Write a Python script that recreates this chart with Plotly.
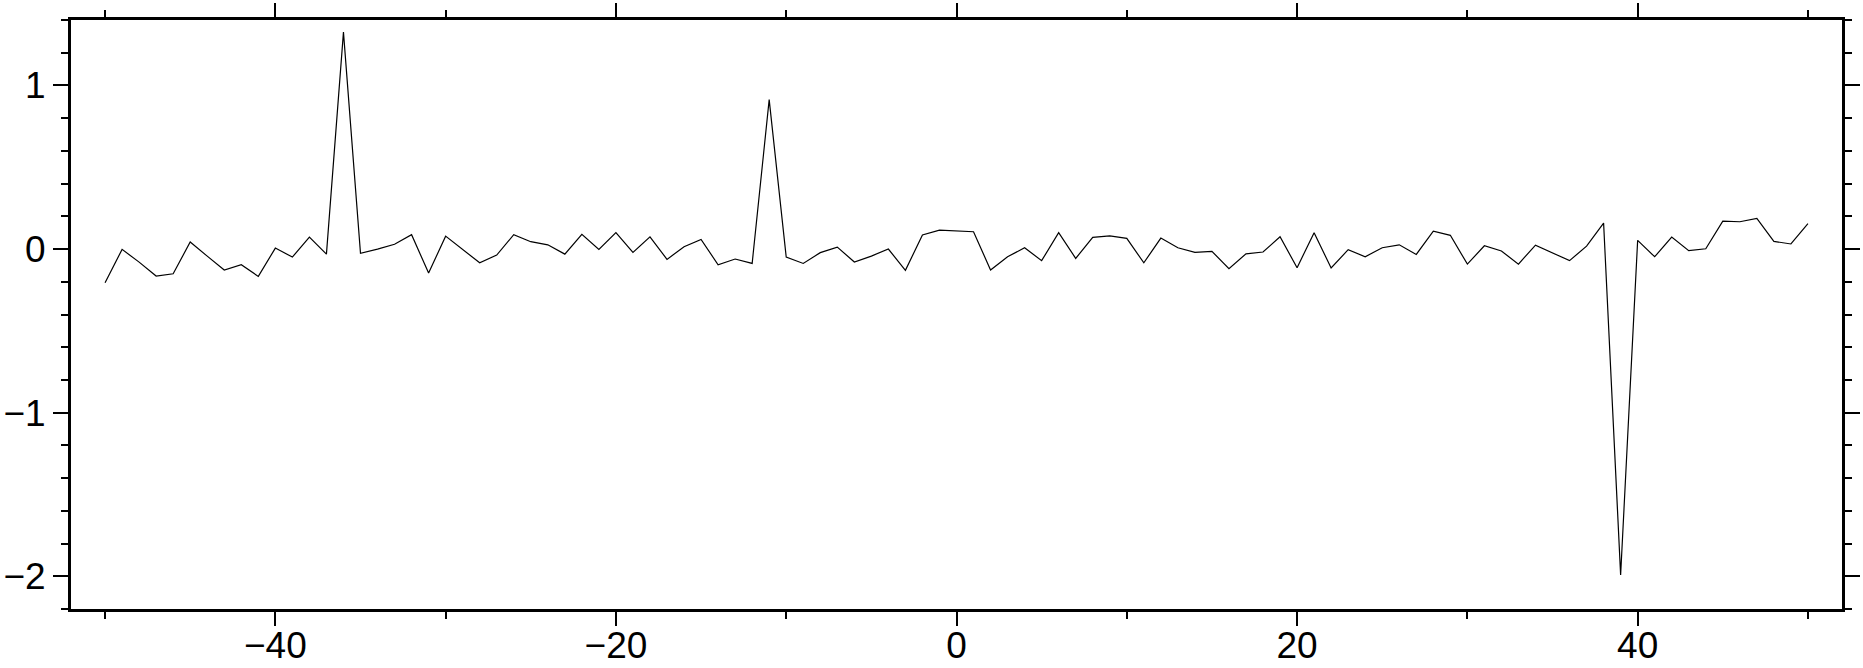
import plotly.graph_objects as go

# ---- data ----
x_values = list(range(-50, 51))
y_values = [
    -0.206, -0.002, -0.080, -0.165, -0.151, 0.043, -0.043, -0.128, -0.096, -0.167,  # -50..-41
    0.006, -0.049, 0.073, -0.031, 1.326, -0.026, 0.000, 0.029, 0.088, -0.147,      # -40..-31
    0.079, 0.000, -0.084, -0.037, 0.088, 0.045, 0.026, -0.031, 0.090, -0.002,      # -30..-21
    0.100, -0.020, 0.075, -0.063, 0.014, 0.059, -0.096, -0.061, -0.088, 0.913,     # -20..-11
    -0.049, -0.088, -0.022, 0.012, -0.079, -0.043, 0.000, -0.130, 0.086, 0.116,    # -10..-1
    0.110, 0.106, -0.128, -0.047, 0.008, -0.071, 0.100, -0.057, 0.071, 0.081,      # 0..9
    0.065, -0.084, 0.067, 0.008, -0.020, -0.014, -0.120, -0.029, -0.018, 0.075,    # 10..19
    -0.114, 0.100, -0.116, -0.004, -0.047, 0.008, 0.026, -0.033, 0.110, 0.084,     # 20..29
    -0.092, 0.020, -0.012, -0.092, 0.024, -0.024, -0.071, 0.018, 0.159, -1.992,    # 30..39
    0.053, -0.047, 0.073, -0.010, 0.002, 0.171, 0.167, 0.187, 0.047, 0.031,        # 40..49
    0.155,                                                                          # 50
]
assert len(x_values) == len(y_values)

x_range = [-52, 52]
y_range = [-2.2, 1.4]

fig = go.Figure()
fig.add_trace(go.Scatter(
    x=x_values, y=y_values, mode="lines",
    line=dict(color="black", width=1.2),
    showlegend=False, hoverinfo="skip",
))

axis_font = dict(family="Liberation Sans, Arial, Helvetica, sans-serif", size=37, color="black")

fig.update_layout(
    width=1863, height=668, autosize=False,
    margin=dict(l=71, r=21, t=20, b=59, pad=0),
    paper_bgcolor="white", plot_bgcolor="white",
    font=axis_font,
    xaxis=dict(
        range=x_range, showgrid=False, zeroline=False, automargin=False,
        showline=True, linecolor="black", linewidth=3, mirror="ticks",
        ticks="outside", ticklen=14, tickwidth=2, tickcolor="black",
        tick0=0, dtick=20, tickfont=axis_font, ticklabelstandoff=-12,
        minor=dict(ticks="outside", ticklen=7, tickwidth=2, tickcolor="black", dtick=10, tick0=0, showgrid=False),
    ),
    yaxis=dict(
        range=y_range, showgrid=False, zeroline=False, automargin=False,
        showline=True, linecolor="black", linewidth=3, mirror="ticks",
        ticks="outside", ticklen=15, tickwidth=2, tickcolor="black",
        tick0=0, dtick=1, tickfont=axis_font,
        minor=dict(ticks="outside", ticklen=7, tickwidth=2, tickcolor="black", dtick=0.2, tick0=0, showgrid=False),
    ),
)

fig.write_html(
    "out.html",
    config={"displayModeBar": False},
    post_script="document.body.style.margin='0';document.body.style.overflow='hidden';",
)
